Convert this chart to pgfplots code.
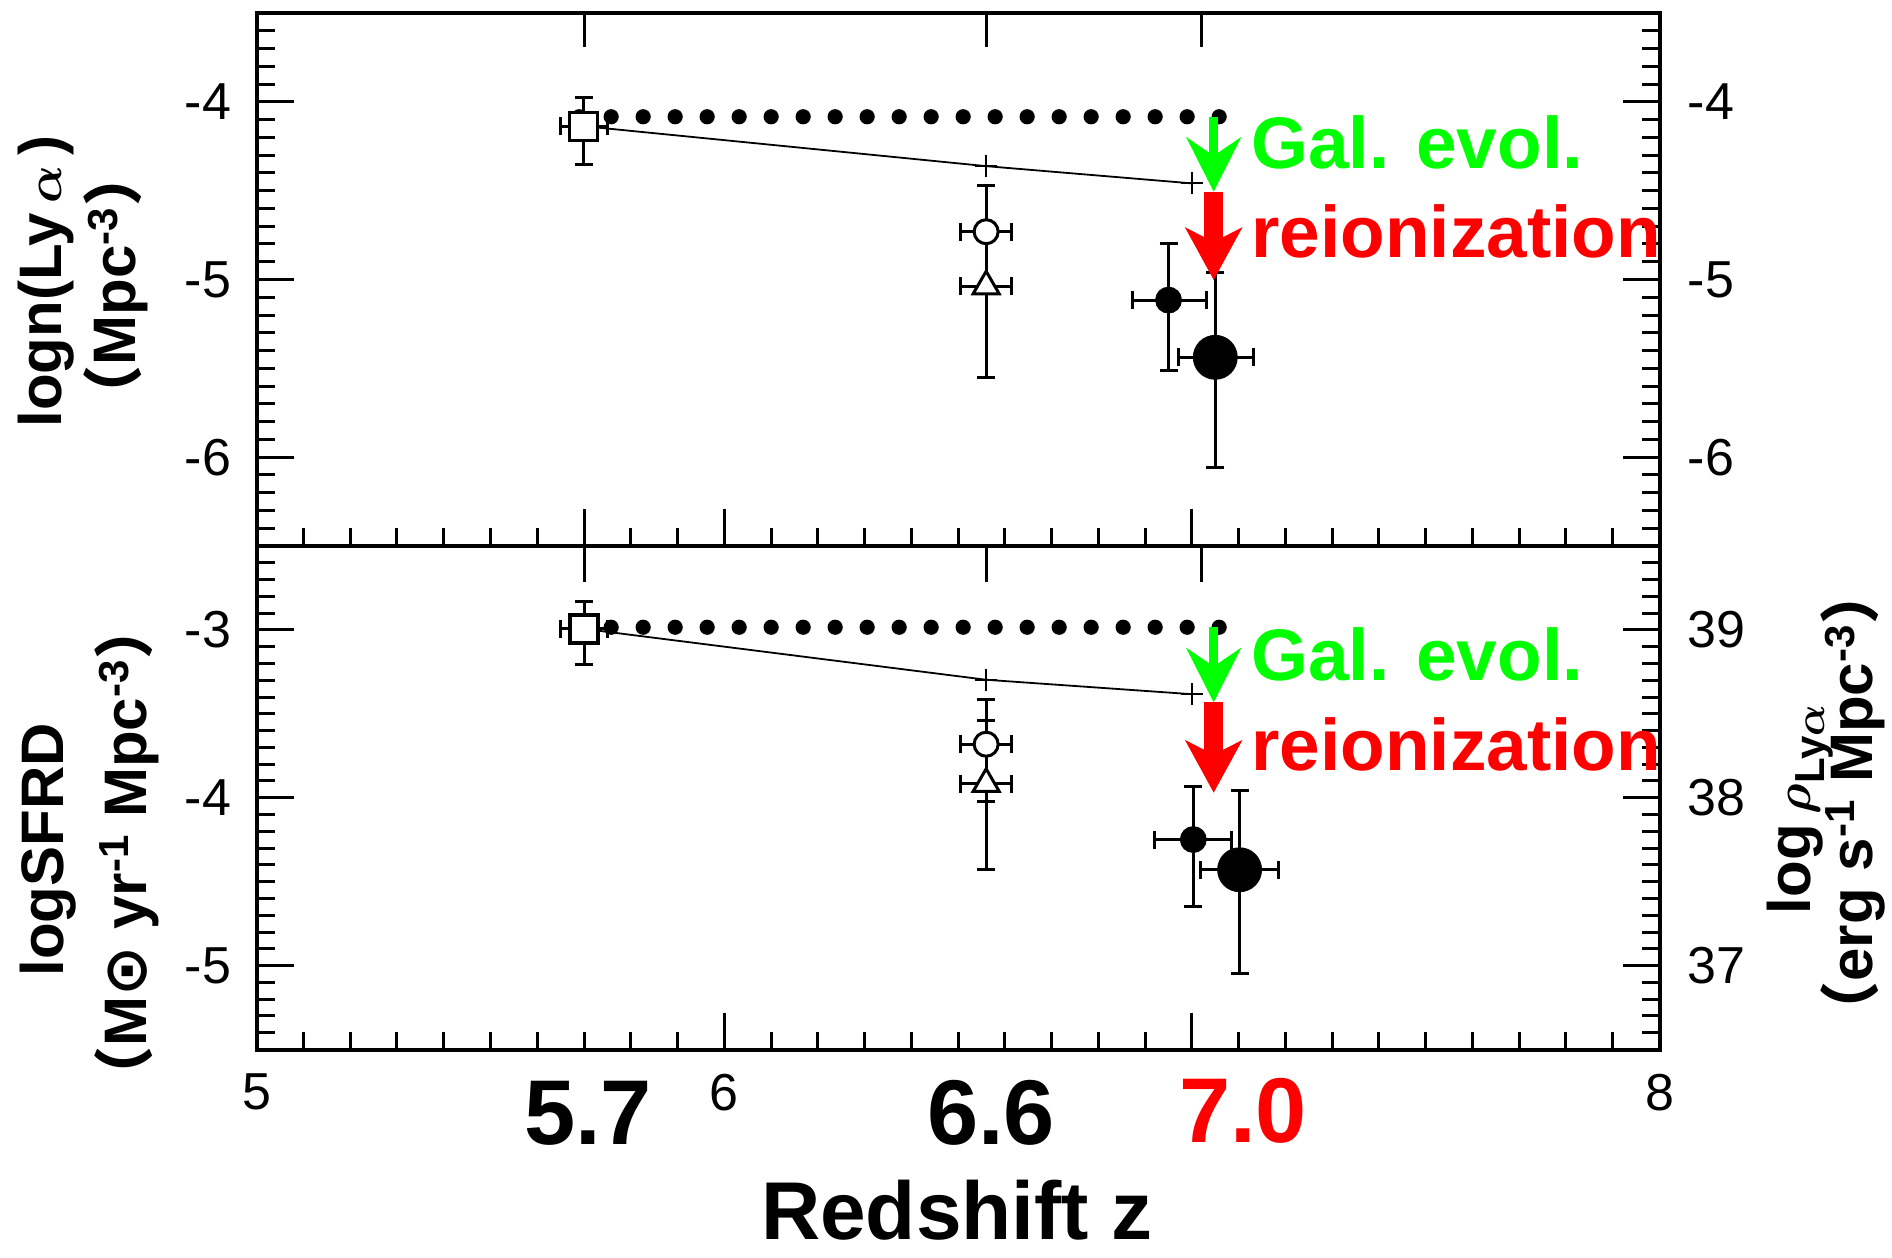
\documentclass[border=0pt]{standalone}
\usepackage{pgfplots}
\pgfplotsset{compat=1.18}
\usepackage{pgfplotstable}
\usepackage{fontspec}
\setmainfont{Liberation Sans}
\newfontfamily\cjk{Noto Sans CJK SC}
\newfontfamily\djv{DejaVu Sans}
\usetikzlibrary{arrows.meta}
\definecolor{bgreen}{RGB}{0,255,0}
\definecolor{bred}{RGB}{255,0,0}

% ---------- top panel: log n(Lya) ----------
\pgfplotstableread{
x y exm exp eym eyp
5.699 -4.137 0.050 0.051 0.213 0.162
}\Asq
\pgfplotstableread{
x y exm exp eym eyp
6.560 -4.731 0.055 0.055 0.000 0.262
}\Acirc
\pgfplotstableread{
x y exm exp eym eyp
6.560 -5.038 0.055 0.055 0.513 0.000
}\Atri
\pgfplotstableread{
x y exm exp eym eyp
6.950 -5.116 0.078 0.081 0.398 0.319
}\Asmall
\pgfplotstableread{
x y exm exp eym eyp
7.050 -5.438 0.079 0.082 0.619 0.478
}\Abig
% ---------- bottom panel: log SFRD ----------
\pgfplotstableread{
x y exm exp eym eyp
5.700 -2.994 0.050 0.050 0.213 0.166
}\Bsq
\pgfplotstableread{
x y exm exp eym eyp
6.560 -3.681 0.055 0.055 0.339 0.269
}\Bcirc
\pgfplotstableread{
x y exm exp eym eyp
6.560 -3.917 0.055 0.055 0.512 0.375
}\Btri
\pgfplotstableread{
x y exm exp eym eyp
7.003 -4.249 0.082 0.082 0.399 0.318
}\Bsmall
\pgfplotstableread{
x y exm exp eym eyp
7.102 -4.429 0.084 0.084 0.621 0.474
}\Bbig

\pgfplotsset{
  panelA/.style={at={(128.35pt,-6.5pt)}, anchor=north west, scale only axis,
    width=701.4pt, height=266.5pt, xmin=5, xmax=8, ymin=-6.5, ymax=-3.5},
  panelB/.style={at={(128.35pt,-273pt)}, anchor=north west, scale only axis,
    width=701.4pt, height=251.75pt, xmin=5, xmax=8, ymin=-5.5, ymax=-2.5},
  mainax/.style={axis line style={line width=2pt}, xtick pos=left, ytick pos=both,
    tick align=inside, major tick length=18.5pt, minor tick length=9pt,
    tick style={line width=1.5pt, black}, minor xtick={5,5.1,...,8},
    tick label style={font=\fontsize{26}{26}\selectfont},
    yticklabel style={xshift=-9.3pt}, clip=false},
  topticks/.style={axis line style={draw=none}, xtick={5.7,6.56,7.02}, xticklabels={},
    xtick pos=right, ytick=\empty, major tick length=17pt, tick align=inside,
    tick style={line width=1.5pt, black}},
  rightlab/.style={axis line style={draw=none}, xtick=\empty, ytick pos=right,
    yticklabel pos=right, major tick length=0pt, minor tick length=0pt, tick style={draw=none},
    tick label style={font=\fontsize{26}{26}\selectfont}, yticklabel style={xshift=10.6pt}},
  eb/.style={error bars/x dir=both, error bars/y dir=both, error bars/x explicit,
    error bars/y explicit, error bars/error bar style={line width=1.5pt, black},
    error bars/error mark options={rotate=90, line width=1.5pt, mark size=4.5pt, black}},
}

\begin{document}
\begin{tikzpicture}
\path[use as bounding box] (0,0) rectangle (946pt,-629pt);

% ================= top panel =================
\begin{axis}[panelA, mainax, xtick={5,5.7,6,7,8}, xticklabels={},
  ytick={-6,-5,-4}, yticklabels={-6,-5,-4}, minor ytick={-6.5,-6.4,...,-3.5}]
\addplot[black, only marks, mark=square*, mark size=7pt, mark options={fill=white, line width=1.6pt}, eb]
  table[x=x, y=y, x error plus=exp, x error minus=exm, y error plus=eyp, y error minus=eym]{\Asq};
\addplot[black, only marks, mark=*, mark size=6pt, mark options={fill=white, line width=1.5pt}, eb, error bars/y dir=plus]
  table[x=x, y=y, x error plus=exp, x error minus=exm, y error plus=eyp, y error minus=eym]{\Acirc};
\addplot[black, only marks, mark=triangle*, mark size=7.5pt, mark options={fill=white, line width=1.5pt}, eb, error bars/y dir=minus]
  table[x=x, y=y, x error plus=exp, x error minus=exm, y error plus=eyp, y error minus=eym]{\Atri};
\addplot[black, line width=1.5pt] coordinates {(6.56,-4.469) (6.56,-5.551)};
\addplot[black, only marks, mark=*, mark size=6.5pt, eb]
  table[x=x, y=y, x error plus=exp, x error minus=exm, y error plus=eyp, y error minus=eym]{\Asmall};
\addplot[black, only marks, mark=*, mark size=11pt, eb]
  table[x=x, y=y, x error plus=exp, x error minus=exm, y error plus=eyp, y error minus=eym]{\Abig};
\addplot[black, line width=0.9pt, mark=+, mark size=5.5pt, mark indices={2,3}, mark options={line width=0.9pt}]
  coordinates {(5.699,-4.137) (6.56,-4.362) (7.0,-4.459)};
\addplot[black, line width=7.6pt, line cap=round, dash pattern=on 0pt off 16pt]
  coordinates {(5.6896,-4.084) (7.0631,-4.084)};
\draw[bgreen, line width=4.5pt, -{Stealth[length=27pt, width=27pt, inset=9pt]}]
  (axis cs:7.0466,-4.084) -- (axis cs:7.0466,-4.506);
\draw[bred, line width=9.5pt, -{Stealth[length=26pt, width=28pt, inset=7pt]}]
  (axis cs:7.0466,-4.506) -- (axis cs:7.0466,-5.003);
\end{axis}
\begin{axis}[panelA, topticks] \end{axis}
\begin{axis}[panelA, rightlab, ytick={-6,-5,-4}, yticklabels={-6,-5,-4}] \end{axis}

% ================= bottom panel =================
\begin{axis}[panelB, mainax, xtick={5,6,7,8}, xticklabels={5,6,,8},
  xticklabel style={yshift=-8.6pt},
  ytick={-5,-4,-3}, yticklabels={-5,-4,-3}, minor ytick={-5.5,-5.4,...,-2.5}]
\addplot[black, only marks, mark=square*, mark size=7pt, mark options={fill=white, line width=1.6pt}, eb]
  table[x=x, y=y, x error plus=exp, x error minus=exm, y error plus=eyp, y error minus=eym]{\Bsq};
\addplot[black, only marks, mark=*, mark size=6pt, mark options={fill=white, line width=1.5pt}, eb]
  table[x=x, y=y, x error plus=exp, x error minus=exm, y error plus=eyp, y error minus=eym]{\Bcirc};
\addplot[black, only marks, mark=triangle*, mark size=7.5pt, mark options={fill=white, line width=1.5pt}, eb]
  table[x=x, y=y, x error plus=exp, x error minus=exm, y error plus=eyp, y error minus=eym]{\Btri};
\addplot[black, line width=1.5pt] coordinates {(6.56,-3.412) (6.56,-4.429)};
\addplot[black, only marks, mark=*, mark size=6.5pt, eb]
  table[x=x, y=y, x error plus=exp, x error minus=exm, y error plus=eyp, y error minus=eym]{\Bsmall};
\addplot[black, only marks, mark=*, mark size=11pt, eb]
  table[x=x, y=y, x error plus=exp, x error minus=exm, y error plus=eyp, y error minus=eym]{\Bbig};
\addplot[black, line width=0.9pt, mark=+, mark size=5.5pt, mark indices={2,3}, mark options={line width=0.9pt}]
  coordinates {(5.70,-2.994) (6.56,-3.297) (7.0,-3.383)};
\addplot[black, line width=7.6pt, line cap=round, dash pattern=on 0pt off 16pt]
  coordinates {(5.6896,-2.984) (7.0631,-2.984)};
\draw[bgreen, line width=4.5pt, -{Stealth[length=27pt, width=27pt, inset=9pt]}]
  (axis cs:7.0466,-2.984) -- (axis cs:7.0466,-3.432);
\draw[bred, line width=9.5pt, -{Stealth[length=26pt, width=28pt, inset=7pt]}]
  (axis cs:7.0466,-3.432) -- (axis cs:7.0466,-3.97);
\end{axis}
\begin{axis}[panelB, topticks, major tick length=18pt] \end{axis}
\begin{axis}[panelB, rightlab, ytick={-5,-4,-3}, yticklabels={37,38,39}] \end{axis}

% ================= annotations =================
\begin{scope}[every node/.style={inner sep=0pt, font=\fontsize{36.5}{36.5}\selectfont\bfseries}]
\node[anchor=base west, text=bgreen] at (625.5pt,-84pt) {Gal. evol.};
\node[anchor=base west, text=bred] at (625.5pt,-128.5pt) {reionization};
\node[anchor=base west, text=bgreen] at (625.5pt,-340pt) {Gal. evol.};
\node[anchor=base west, text=bred] at (625.5pt,-385pt) {reionization};
\end{scope}
\begin{scope}[every node/.style={inner sep=0pt, font=\fontsize{46}{46}\selectfont\bfseries, anchor=base}]
\node at (294pt,-572pt) {5.7};
\node at (495.5pt,-572pt) {6.6};
\node[text=bred] at (621.5pt,-571pt) {7.0};
\end{scope}
\node[inner sep=0pt, anchor=base, font=\fontsize{41}{41}\selectfont\bfseries] at (478.5pt,-619.5pt) {Redshift z};

\begin{scope}[every node/.style={inner sep=0pt, rotate=90, font=\fontsize{30}{30}\selectfont\bfseries}]
\node at (23pt,-140.75pt) {logn(Ly\,{\boldmath$\alpha$}\,)};
\node at (58pt,-143pt) {{\cjk （}Mpc\textsuperscript{-3}{\cjk ）}};
\node at (24pt,-425pt) {logSFRD};
\node at (63.5pt,-426.5pt) {{\cjk （}M{\djv ⊙} yr\textsuperscript{-1} Mpc\textsuperscript{-3}{\cjk ）}};
\node at (900pt,-404.5pt) {log\,{\boldmath$\rho$}\textsubscript{Ly{\boldmath$\alpha$}}};
\node at (926.5pt,-401.5pt) {{\cjk （}erg s\textsuperscript{-1} Mpc\textsuperscript{-3}{\cjk ）}};
\end{scope}
\end{tikzpicture}
\end{document}
